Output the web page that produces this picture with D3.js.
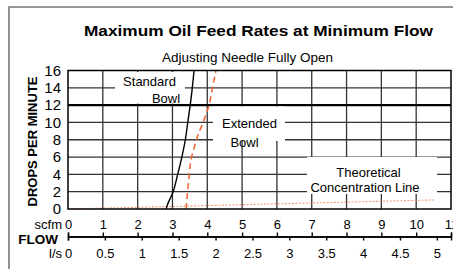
<!DOCTYPE html>
<html>
<head>
<meta charset="utf-8">
<script src="https://cdn.jsdelivr.net/npm/d3@7"></script>
<style>
  body { margin: 0; background: #fff; }
  text { font-family: "Liberation Sans", Arial, Helvetica, sans-serif; fill: #000; }
</style>
</head>
<body>
<div id="chart"></div>
<script>
// data
var standardFlow = [2.82, 2.84, 3.02, 3.15, 3.27, 3.37, 3.44, 3.51, 3.57, 3.62];
var standardDrops = [0, 0.3, 2, 4, 6, 8, 10, 12, 14, 16];
var extendedFlow = [3.39, 3.46, 3.55, 3.66, 3.72, 3.88, 4.05, 4.15, 4.25];
var extendedDrops = [0, 3, 6, 7.6, 8.4, 10, 12, 14, 16];
var theoFlow = [0, 10.55];
var theoDrops = [0, 1.05];
var scfmTicks = [0, 1, 2, 3, 4, 5, 6, 7, 8, 9, 10, 11];
var lsTicks = [0, 0.5, 1, 1.5, 2, 2.5, 3, 3.5, 4, 4.5, 5];
var dropTicks = [0, 2, 4, 6, 8, 10, 12, 14, 16];
var SCFM_TO_LS = 0.47195;

var W = 453, H = 269;
var plot = { left: 68, right: 451, top: 70.5, bottom: 209 };

var svg = d3.select('#chart').append('svg').attr('width', W).attr('height', H);

var x = d3.scaleLinear().domain([0, 11]).range([plot.left, plot.right]);
var xLs = d3.scaleLinear().domain([0, 11 * SCFM_TO_LS]).range([plot.left, plot.right]);
var y = d3.scaleLinear().domain([0, 16]).range([plot.bottom, plot.top]);

// outer frame (only left and top show)
svg.append('path')
  .attr('d', 'M9,' + H + 'V7H' + W)
  .attr('fill', 'none').attr('stroke', '#777').attr('stroke-width', 1.6);

// grid
svg.append('g').selectAll('line').data(scfmTicks.slice(1, -1)).enter().append('line')
  .attr('x1', function(d) { return x(d); }).attr('x2', function(d) { return x(d); })
  .attr('y1', plot.top).attr('y2', plot.bottom)
  .attr('stroke', '#333').attr('stroke-width', 1.3);
svg.append('g').selectAll('line').data(dropTicks.slice(1, -1)).enter().append('line')
  .attr('x1', plot.left).attr('x2', plot.right)
  .attr('y1', function(d) { return y(d); }).attr('y2', function(d) { return y(d); })
  .attr('stroke', function(d) { return d == 12 ? '#000' : '#333'; })
  .attr('stroke-width', function(d) { return d == 12 ? 2.4 : 1.3; });

// white patches behind the labels
var boxes = [
  { x0: 115, x1: 185, y0: 72, y1: 103.5 },
  { x0: 213, x1: 285, y0: 106.5, y1: 141 },
  { x0: 307, x1: 437, y0: 157, y1: 194 }
];
svg.append('g').selectAll('rect').data(boxes).enter().append('rect')
  .attr('x', function(d) { return d.x0; }).attr('y', function(d) { return d.y0; })
  .attr('width', function(d) { return d.x1 - d.x0; })
  .attr('height', function(d) { return d.y1 - d.y0; })
  .attr('fill', '#fff');

// curves
var line = d3.line().x(function(d) { return x(d[0]); }).y(function(d) { return y(d[1]); })
  .curve(d3.curveMonotoneY);

svg.append('path')
  .datum(d3.zip(theoFlow, theoDrops))
  .attr('d', d3.line().x(function(d) { return x(d[0]); }).y(function(d) { return y(d[1]); }))
  .attr('fill', 'none').attr('stroke', '#f49a76').attr('stroke-width', 1.1)
  .attr('stroke-dasharray', '2,1.5');

svg.append('path')
  .datum(d3.zip(extendedFlow, extendedDrops))
  .attr('d', line)
  .attr('fill', 'none').attr('stroke', '#f2602e').attr('stroke-width', 1.5)
  .attr('stroke-dasharray', '6,4');

svg.append('path')
  .datum(d3.zip(standardFlow, standardDrops))
  .attr('d', line)
  .attr('fill', 'none').attr('stroke', '#000').attr('stroke-width', 1.4);

// plot border
svg.append('rect')
  .attr('x', plot.left).attr('y', plot.top)
  .attr('width', plot.right - plot.left).attr('height', plot.bottom - plot.top)
  .attr('fill', 'none').attr('stroke', '#000').attr('stroke-width', 1.5);

// y axis labels
var yAxis = svg.append('g').attr('transform', 'translate(' + plot.left + ',0)')
  .call(d3.axisLeft(y).tickValues(dropTicks).tickSize(0).tickPadding(7));
yAxis.select('.domain').remove();
yAxis.selectAll('text').style('font-size', '15px').style('font-family', 'Liberation Sans, Arial, sans-serif').attr('fill', '#000');

// flow axes
var flowY = 236.5;
var scfmAxis = svg.append('g').attr('transform', 'translate(0,' + flowY + ')')
  .call(d3.axisTop(x).tickValues(scfmTicks).tickSizeInner(4).tickSizeOuter(4).tickPadding(3.5));
var lsAxis = svg.append('g').attr('transform', 'translate(0,' + flowY + ')')
  .call(d3.axisBottom(xLs).tickValues(lsTicks).tickSizeInner(4).tickSizeOuter(4).tickPadding(8)
    .tickFormat(d3.format('~g')));
[scfmAxis, lsAxis].forEach(function(g) {
  g.selectAll('path, line').attr('stroke', '#000').attr('stroke-width', 1.4);
  g.selectAll('text').style('font-size', '13px').style('font-family', 'Liberation Sans, Arial, sans-serif').attr('fill', '#000');
});

// titles and labels
svg.append('text').attr('x', 258.5).attr('y', 36).attr('text-anchor', 'middle')
  .style('font-size', '15px').style('font-weight', 'bold')
  .attr('textLength', 349).attr('lengthAdjust', 'spacingAndGlyphs')
  .text('Maximum Oil Feed Rates at Minimum Flow');
svg.append('text').attr('x', 247.5).attr('y', 62).attr('text-anchor', 'middle')
  .style('font-size', '12.5px')
  .attr('textLength', 171).attr('lengthAdjust', 'spacingAndGlyphs')
  .text('Adjusting Needle Fully Open');

svg.append('text')
  .attr('transform', 'translate(37,141.5) rotate(-90)')
  .attr('text-anchor', 'middle')
  .style('font-size', '13px').style('font-weight', 'bold')
  .text('DROPS PER MINUTE');

svg.append('text').attr('x', 62).attr('y', 229).attr('text-anchor', 'end')
  .style('font-size', '13px').text('scfm');
svg.append('text').attr('x', 62).attr('y', 258).attr('text-anchor', 'end')
  .style('font-size', '13px').text('l/s');
svg.append('text').attr('x', 58).attr('y', 244).attr('text-anchor', 'end')
  .style('font-size', '13.5px').style('font-weight', 'bold').text('FLOW');

var labels = [
  { t: 'Standard', x: 149.5, y: 86 },
  { t: 'Bowl', x: 166, y: 102.5 },
  { t: 'Extended', x: 249.5, y: 127.5 },
  { t: 'Bowl', x: 244.5, y: 147 },
  { t: 'Theoretical', x: 368.5, y: 177 },
  { t: 'Concentration Line', x: 365, y: 192 }
];
svg.append('g').selectAll('text').data(labels).enter().append('text')
  .attr('x', function(d) { return d.x; }).attr('y', function(d) { return d.y; })
  .attr('text-anchor', 'middle').style('font-size', '13px')
  .text(function(d) { return d.t; });
</script>
</body>
</html>
